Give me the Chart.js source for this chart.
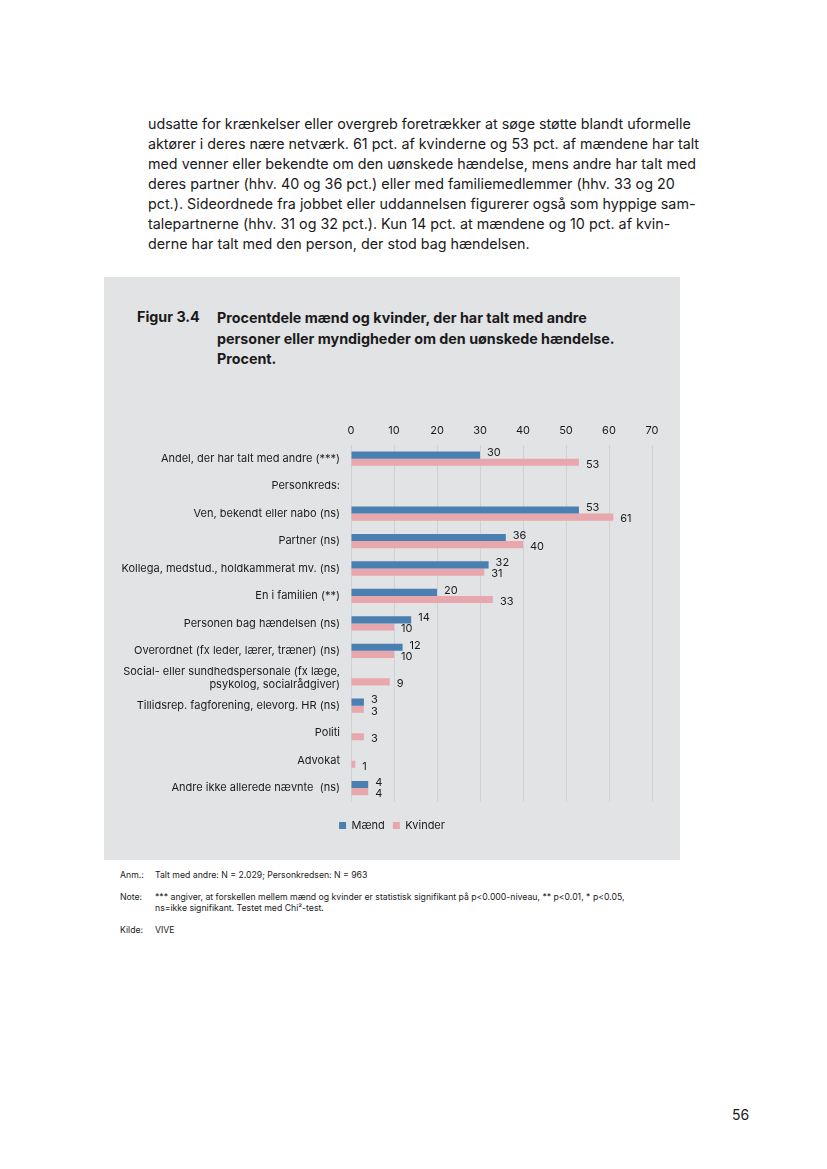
<!DOCTYPE html>
<html>
<head>
<meta charset="utf-8">
<script src="https://cdn.jsdelivr.net/npm/chart.js@4.4.0/dist/chart.umd.min.js"></script>
<style>
  body { margin: 0; background: #fff; font-family: Inter, "Noto Sans", sans-serif; color: #1a1a1a; }
  .page { position: relative; width: 827px; height: 1169px; }
  .body-text { position: absolute; left: 148px; top: 114px; font-size: 14.3px; line-height: 20px; white-space: nowrap; }
  .panel { position: absolute; left: 104px; top: 277px; width: 576px; height: 583px; background: #e2e3e5; }
  .fig-no { position: absolute; left: 137px; top: 308px; font-size: 14.3px; font-weight: 700; }
  .fig-title { position: absolute; left: 217px; top: 308px; font-size: 14.3px; font-weight: 700; line-height: 20.5px; white-space: nowrap; }
  .chart-box { position: absolute; left: 104px; top: 415px; width: 576px; height: 428px; }
  .notes { position: absolute; left: 120px; font-size: 8.7px; line-height: 11px; }
  .notes .k { position: absolute; left: 0; }
  .notes .v { position: absolute; left: 35px; white-space: nowrap; }
  .pagenr { position: absolute; left: 732px; top: 1106px; font-size: 14px; }
</style>
</head>
<body>
<div class="page">
  <div class="body-text">
    udsatte for krænkelser eller overgreb foretrækker at søge støtte blandt uformelle<br>
    aktører i deres nære netværk. 61 pct. af kvinderne og 53 pct. af mændene har talt<br>
    med venner eller bekendte om den uønskede hændelse, mens andre har talt med<br>
    deres partner (hhv. 40 og 36 pct.) eller med familiemedlemmer (hhv. 33 og 20<br>
    pct.). Sideordnede fra jobbet eller uddannelsen figurerer også som hyppige sam-<br>
    talepartnerne (hhv. 31 og 32 pct.). Kun 14 pct. at mændene og 10 pct. af kvin-<br>
    derne har talt med den person, der stod bag hændelsen.
  </div>

  <div class="panel"></div>
  <div class="fig-no">Figur 3.4</div>
  <div class="fig-title">Procentdele mænd og kvinder, der har talt med andre<br>personer eller myndigheder om den uønskede hændelse.<br>Procent.</div>
  <div class="chart-box"><canvas id="chart" width="576" height="428"></canvas></div>

  <div class="notes" style="top:870px;"><span class="k">Anm.:</span><span class="v">Talt med andre: N = 2.029; Personkredsen: N = 963</span></div>
  <div class="notes" style="top:892px;"><span class="k">Note:</span><span class="v">*** angiver, at forskellen mellem mænd og kvinder er statistisk signifikant på p&lt;0.000-niveau, ** p&lt;0.01, * p&lt;0.05,<br>ns=ikke signifikant. Testet med Chi²-test.</span></div>
  <div class="notes" style="top:925px;"><span class="k">Kilde:</span><span class="v">VIVE</span></div>

  <div class="pagenr">56</div>
</div>

<script>
const categories = [
  "Andel, der har talt med andre (***)",
  "Personkreds:",
  "Ven, bekendt eller nabo (ns)",
  "Partner (ns)",
  "Kollega, medstud., holdkammerat mv. (ns)",
  "En i familien (**)",
  "Personen bag hændelsen (ns)",
  "Overordnet (fx leder, lærer, træner) (ns)",
  ["Social- eller sundhedspersonale (fx læge,", "psykolog, socialrådgiver)"],
  "Tillidsrep. fagforening, elevorg. HR (ns)",
  "Politi",
  "Advokat",
  "Andre ikke allerede nævnte  (ns)"
];
const maend   = [30, null, 53, 36, 32, 20, 14, 12, null, 3, null, null, 4];
const kvinder = [53, null, 61, 40, 31, 33, 10, 10, 9, 3, 3, 1, 4];
const xTicks = [0, 10, 20, 30, 40, 50, 60, 70];

const blue = "#4a7fb1";
const pink = "#e8a7ad";
const font = "Inter";

// value labels next to the bars, blue a bit up, pink a bit down
const valueLabels = {
  id: "valueLabels",
  afterLayout(chart) {
    // center the legend on the whole canvas, not only left of the right padding
    chart.legend.left += 28;
  },
  afterDatasetsDraw(chart) {
    const ctx = chart.ctx;
    ctx.save();
    ctx.font = "11px " + font;
    ctx.fillStyle = "#1a1a1a";
    ctx.textBaseline = "middle";
    ctx.textAlign = "left";
    chart.data.datasets.forEach((ds, i) => {
      const meta = chart.getDatasetMeta(i);
      meta.data.forEach((bar, j) => {
        const v = ds.data[j];
        if (v === null) return;
        const dy = i === 0 ? -2 : 2;
        ctx.fillText(String(v), bar.x + 7, bar.y + dy);
      });
    });
    ctx.restore();
  }
};

new Chart(document.getElementById("chart"), {
  type: "bar",
  data: {
    labels: categories,
    datasets: [
      { label: "Mænd", data: maend, backgroundColor: blue, categoryPercentage: 0.52, barPercentage: 1 },
      { label: "Kvinder", data: kvinder, backgroundColor: pink, categoryPercentage: 0.52, barPercentage: 1 }
    ]
  },
  options: {
    indexAxis: "y",
    responsive: false,
    animation: false,
    devicePixelRatio: 1,
    layout: { padding: { left: 0, right: 28, top: 0, bottom: 2 } },
    scales: {
      x: {
        position: "top",
        min: 0,
        max: 70,
        afterBuildTicks: (scale) => { scale.ticks = xTicks.map(v => ({ value: v })); },
        afterFit: (scale) => { scale.height = 30; },
        grid: { color: "#d0d1d4", drawTicks: false },
        border: { display: false },
        ticks: { color: "#1a1a1a", font: { family: font, size: 11 }, padding: 8, maxRotation: 0 }
      },
      y: {
        afterFit: (scale) => { scale.width = 247; },
        grid: { display: false, drawTicks: false },
        border: { display: false },
        ticks: { color: "#1a1a1a", font: { family: font, size: 11 }, padding: 11, autoSkip: false }
      }
    },
    plugins: {
      legend: {
        position: "bottom",
        // empty title only adds some room above the legend items
        title: { display: true, text: "", font: { size: 1 }, padding: { top: 9, bottom: 0 } },
        labels: { boxWidth: 7, boxHeight: 7, padding: 8, color: "#1a1a1a", font: { family: font, size: 11 } }
      },
      tooltip: { enabled: false }
    }
  },
  plugins: [valueLabels]
});
</script>
</body>
</html>
